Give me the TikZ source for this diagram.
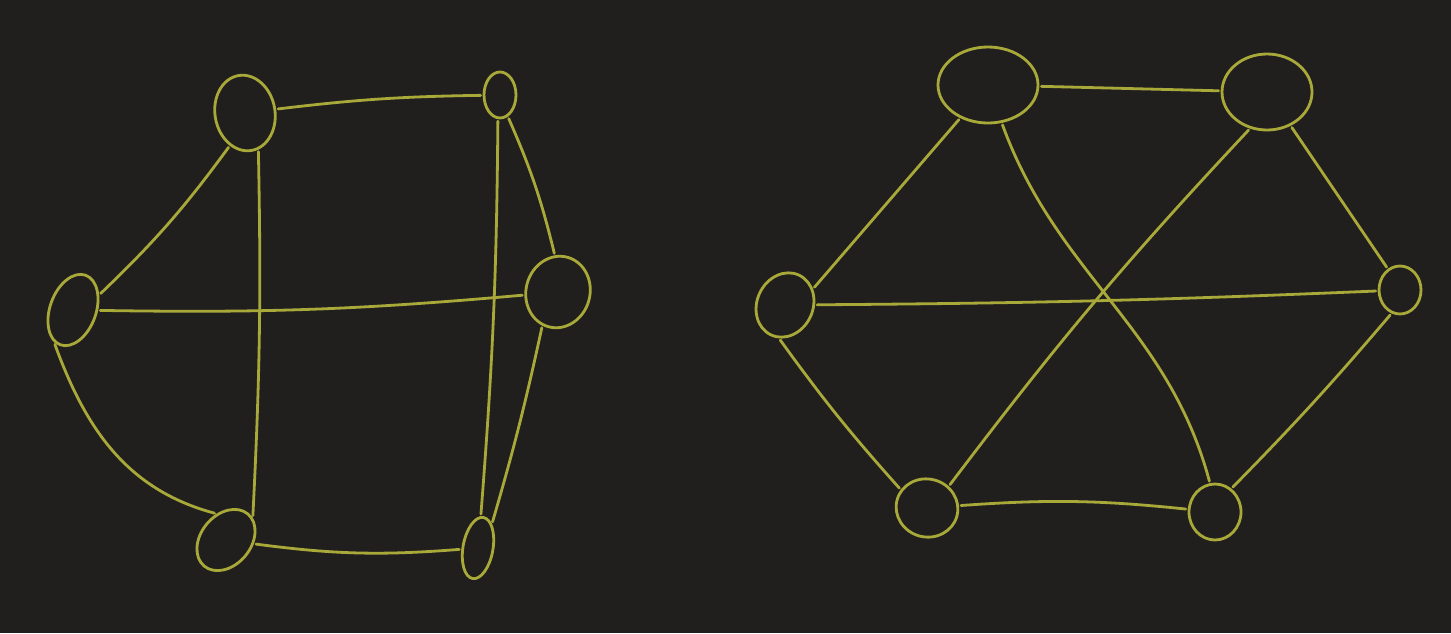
\documentclass[tikz,border=0pt]{standalone}
\usetikzlibrary{shapes.geometric}
\definecolor{bg}{HTML}{201F1E}
\definecolor{ink}{HTML}{A9A93A}
\begin{document}
\begin{tikzpicture}[x=1pt,y=-1pt,
  vert/.style={draw=ink,line width=2.8pt,ellipse,inner sep=0pt},
  edge/.style={draw=ink,line width=2.8pt,line cap=round,shorten <=2pt,shorten >=2pt}]
\fill[bg] (0,0) rectangle (1451,633);
\useasboundingbox (0,0) rectangle (1451,633);
% left graph
\node[vert,minimum width=60pt,minimum height=76pt,rotate=10] (a1) at (245,113) {};
\node[vert,minimum width=32pt,minimum height=46pt] (a2) at (500,95) {};
\node[vert,minimum width=46pt,minimum height=74pt,rotate=-20] (a3) at (73,310) {};
\node[vert,minimum width=64pt,minimum height=72pt,rotate=-15] (a4) at (558,292) {};
\node[vert,minimum width=50pt,minimum height=68pt,rotate=-40] (a5) at (226,540) {};
\node[vert,minimum width=30pt,minimum height=62pt,rotate=-10] (a6) at (478,548) {};
\draw[edge] (a1) to[bend left=3] (a2);
\draw[edge] (a1.-125) to[bend left=5] (a3.50);
\draw[edge] (a1.-80) to[bend left=2] (a5.80);
\draw[edge] (a2.-95) to[bend left=2] (a6.95);
\draw[edge] (a2.-70) to[bend left=5] (a4.110);
\draw[edge] (a3) to[bend right=3] (a4);
\draw[edge] (a3.-100) to[out=-70,in=165] (a5.150);
\draw[edge] (a4.-100) to[bend left=2] (a6.70);
\draw[edge] (a5) to[bend right=6] (a6);
% right graph
\node[vert,minimum width=100pt,minimum height=76pt] (b1) at (988,85) {};
\node[vert,minimum width=90pt,minimum height=76pt] (b2) at (1267,92) {};
\node[vert,minimum width=56pt,minimum height=66pt,rotate=-25] (b3) at (785,305) {};
\node[vert,minimum width=42pt,minimum height=48pt] (b4) at (1400,290) {};
\node[vert,minimum width=62pt,minimum height=58pt,rotate=-15] (b5) at (927,508) {};
\node[vert,minimum width=52pt,minimum height=56pt] (b6) at (1215,512) {};
\draw[edge] (b1) -- (b2);
\draw[edge] (b1.-130) -- (b3.55);
\draw[edge] (b1.-70) to[out=-70,in=105] (b6.100);
\draw[edge] (b2.-115) to[bend right=3] (b5.60);
\draw[edge] (b2.-55) -- (b4.120);
\draw[edge] (b3) to[bend right=1] (b4);
\draw[edge] (b3.-75) to[bend right=3] (b5.160);
\draw[edge] (b4.-110) to[bend left=2] (b6.55);
\draw[edge] (b5) to[bend left=5] (b6);
\end{tikzpicture}
\end{document}
